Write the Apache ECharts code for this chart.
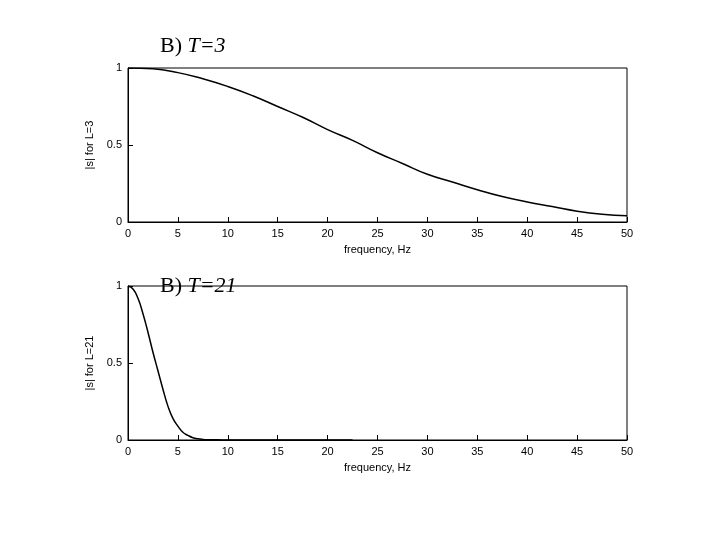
<!DOCTYPE html>
<html><head><meta charset="utf-8">
<script src="https://cdn.jsdelivr.net/npm/echarts@6/dist/echarts.min.js"></script>
<style>body{margin:0;background:#fff}#c{width:720px;height:540px}</style>
</head><body><div id="c"></div>
<script>
const freqTop = [0,2.5,5,7.5,10,12.5,15,17.5,20,22.5,25,27.5,30,32.5,35,37.5,40,42.5,45,47.5,50];
const magTop = [1,0.995,0.97,0.93,0.88,0.82,0.75,0.68,0.6,0.53,0.45,0.38,0.31,0.26,0.21,0.165,0.13,0.1,0.07,0.05,0.04];
const freqBot = [0,0.5,1,1.5,2,2.5,3,3.5,4,4.5,5,5.5,6,6.5,7,7.5,8,9,10,12,15,18,22.5];
const magBot = [1,0.98,0.92,0.82,0.7,0.57,0.45,0.33,0.22,0.14,0.09,0.05,0.03,0.015,0.008,0.004,0.002,0.001,0,0,0,0,0];
const xTicks = [0,5,10,15,20,25,30,35,40,45,50];
const yTicks = [0,0.5,1];
const titles = ['T=3','T=21'];
const yNames = ['|s| for L=3','|s| for L=21'];

const tops = [68, 286], h = 154;
const lab = {color:'#000', fontFamily:'Liberation Sans', fontSize:11};
const grids = tops.map(t => ({left:128, width:499, top:t, height:h, show:true, borderColor:'#000', borderWidth:1, backgroundColor:'transparent'}));
const xAxis = [], yAxis = [];
[0,1].forEach(i => {
  xAxis.push({type:'value', gridIndex:i, min:0, max:50, interval:5, name:'frequency, Hz', nameLocation:'middle', nameGap:22, nameTextStyle:lab,
    axisLine:{lineStyle:{color:'#000'}}, axisTick:{inside:true, length:5, lineStyle:{color:'#000'}}, axisLabel:{...lab, margin:6}, splitLine:{show:false}});
  yAxis.push({type:'value', gridIndex:i, min:0, max:1, interval:0.5, name:yNames[i], nameLocation:'middle', nameGap:30, nameTextStyle:lab,
    axisLine:{show:true, lineStyle:{color:'#000'}}, axisTick:{inside:true, length:5, lineStyle:{color:'#000'}}, axisLabel:{...lab, margin:6, formatter:v=>String(v)}, splitLine:{show:false}});
});
const mk = (xs, ys) => xs.map((x,k)=>[x, ys[k]]);
const chart = echarts.init(document.getElementById('c'));
chart.setOption({
  animation:false, backgroundColor:'#fff',
  title: titles.map((t,i)=>({text:'{a|B) }{b|'+t+'}', left:155, top:[30,270][i],
    textStyle:{fontWeight:'normal', rich:{a:{fontFamily:'Liberation Serif', fontWeight:'normal', fontSize:22, color:'#000'}, b:{fontFamily:'Liberation Serif', fontWeight:'normal', fontStyle:'italic', fontSize:22, color:'#000'}}}})),
  grid: grids, xAxis, yAxis,
  series:[
    {type:'line', xAxisIndex:0, yAxisIndex:0, data:mk(freqTop,magTop), smooth:true, showSymbol:false, lineStyle:{color:'#000', width:1.5}},
    {type:'line', xAxisIndex:1, yAxisIndex:1, data:mk(freqBot,magBot), smooth:true, showSymbol:false, lineStyle:{color:'#000', width:1.5}}
  ]
});
</script></body></html>
